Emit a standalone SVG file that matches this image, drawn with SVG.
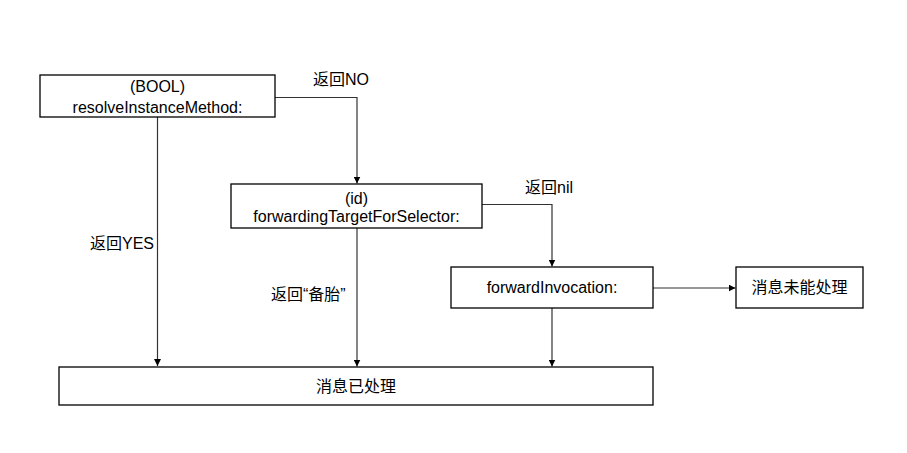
<svg xmlns="http://www.w3.org/2000/svg" width="907" height="453" viewBox="0 0 907 453">
<style>
.box{fill:#fff;stroke:#000;stroke-width:1.3}
.t{font-family:"Liberation Sans","Noto Sans CJK SC",Arial,sans-serif;font-size:16px;fill:#000;text-anchor:middle}
.lbl{font-family:"Liberation Sans","Noto Sans CJK SC",Arial,sans-serif;font-size:16px;fill:#000}
.c{fill:none;stroke:#333;stroke-width:1.2}
</style>
<defs>
<marker id="ah" viewBox="0 0 10 10" refX="10" refY="5" markerWidth="7" markerHeight="7" markerUnits="userSpaceOnUse" orient="auto">
<path d="M0,0 L10,5 L0,10 Z" fill="#000"/>
</marker>
</defs>
<rect width="907" height="453" fill="#fff"/>
<g id="connectors">
<path class="c" d="M157.5,117 V366" marker-end="url(#ah)"/>
<path class="c" d="M275,97.5 H357 V183.5" marker-end="url(#ah)"/>
<path class="c" d="M357,228 V366.5" marker-end="url(#ah)"/>
<path class="c" d="M482,204.5 H552 V266.5" marker-end="url(#ah)"/>
<path class="c" d="M552,308 V366.5" marker-end="url(#ah)"/>
<path class="c" d="M653,288 H735.5" marker-end="url(#ah)"/>
<text class="lbl" x="313" y="85">返回NO</text>
<text class="lbl" x="525" y="193">返回nil</text>
<text class="lbl" x="90" y="249">返回YES</text>
<text class="lbl" x="271" y="300">返回“备胎”</text>
</g>
<g id="resolve">
<rect class="box" x="40" y="75" width="235" height="42"/>
<text class="t" x="157.5" y="92">(BOOL)</text>
<text class="t" x="157.5" y="113">resolveInstanceMethod:</text>
</g>
<g id="forwardingTarget">
<rect class="box" x="231" y="184" width="251" height="44"/>
<text class="t" x="356.5" y="204">(id)</text>
<text class="t" x="356.5" y="222">forwardingTargetForSelector:</text>
</g>
<g id="forwardInvocation">
<rect class="box" x="451" y="267" width="202" height="41"/>
<text class="t" x="552" y="293">forwardInvocation:</text>
</g>
<g id="unhandled">
<rect class="box" x="736" y="267" width="127" height="41"/>
<text class="t" x="799.5" y="293">消息未能处理</text>
</g>
<g id="handled">
<rect class="box" x="59" y="367" width="594" height="38"/>
<text class="t" x="356" y="392">消息已处理</text>
</g>
</svg>
